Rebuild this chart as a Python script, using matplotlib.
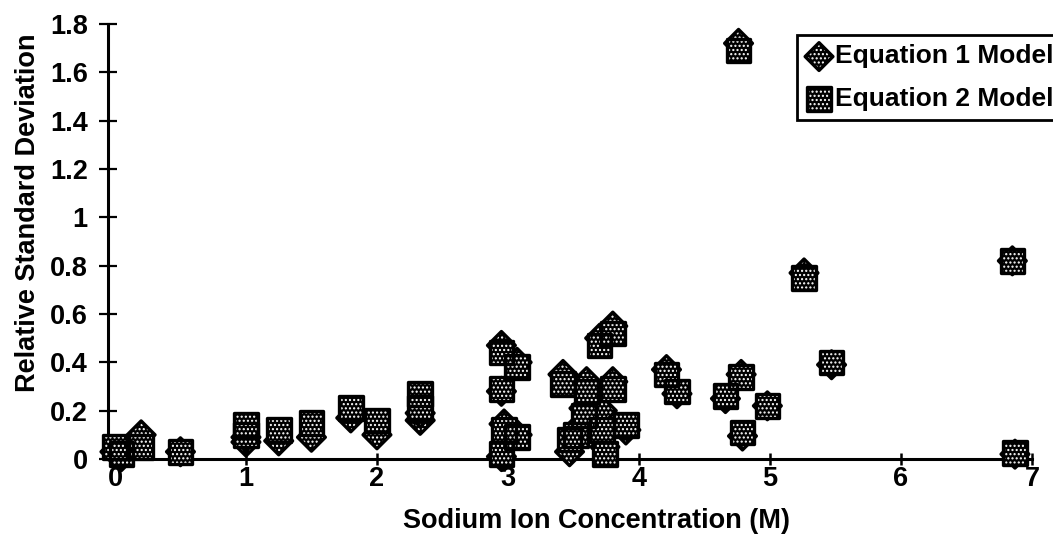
import matplotlib
matplotlib.use("Agg")
import matplotlib.pyplot as plt
from matplotlib.legend_handler import HandlerTuple

plt.rcParams['font.family'] = ['Liberation Sans', 'DejaVu Sans']
plt.rcParams['font.weight'] = 'bold'
plt.rcParams['hatch.color'] = 'white'
plt.rcParams['hatch.linewidth'] = 1.0

# Sodium ion concentration (M)
sodium = [0.00, 0.05, 0.20, 0.50, 1.00, 1.00, 1.25, 1.50, 1.80, 2.00,
          2.33, 2.33, 2.95, 3.07, 2.95, 2.97, 3.07, 2.95, 3.42, 3.47,
          3.52, 3.60, 3.58, 3.70, 3.72, 3.74, 3.80, 3.80, 3.90, 4.21,
          4.29, 4.66, 4.78, 4.98, 4.79, 4.76, 5.26, 5.47, 6.85, 6.87]
# Relative standard deviation, Equation 1 model
eq1_rsd = [0.03, 0.01, 0.10, 0.03, 0.07, 0.09, 0.075, 0.09, 0.17, 0.10,
           0.16, 0.19, 0.47, 0.40, 0.28, 0.145, 0.10, 0.01, 0.35, 0.03,
           0.12, 0.32, 0.21, 0.50, 0.20, 0.05, 0.55, 0.32, 0.12, 0.37,
           0.27, 0.25, 0.35, 0.22, 0.095, 1.72, 0.77, 0.39, 0.82, 0.02]
# Relative standard deviation, Equation 2 model
eq2_rsd = [0.05, 0.02, 0.05, 0.03, 0.14, 0.10, 0.12, 0.15, 0.21, 0.16,
           0.27, 0.21, 0.44, 0.38, 0.29, 0.12, 0.09, 0.02, 0.31, 0.08,
           0.10, 0.28, 0.18, 0.47, 0.12, 0.02, 0.52, 0.29, 0.14, 0.35,
           0.28, 0.26, 0.34, 0.22, 0.11, 1.69, 0.75, 0.40, 0.82, 0.025]

series_labels = ['Equation 1 Model', 'Equation 2 Model']
x_ticks = [0, 1, 2, 3, 4, 5, 6, 7]
y_ticks = [0, 0.2, 0.4, 0.6, 0.8, 1, 1.2, 1.4, 1.6, 1.8]
y_tick_labels = ['0', '0.2', '0.4', '0.6', '0.8', '1', '1.2', '1.4', '1.6', '1.8']

fig = plt.figure(figsize=(10.53, 5.55), dpi=100)
ax = fig.add_axes([108/1053, 1-459/555, (1032-108)/1053, (459-24)/555])

D_SIZE = 200
S_SIZE = 290

def layered(x, y, marker, size, z):
    f = ax.scatter(x, y, s=size, marker=marker, facecolor='black', edgecolor='white',
                   linewidths=0, hatch='....', zorder=z, clip_on=False)
    o = ax.scatter(x, y, s=size, marker=marker, facecolor='none', edgecolor='black',
                   linewidths=2.4, zorder=z + 0.1, clip_on=False)
    return f, o

h1 = layered(sodium, eq1_rsd, 'D', D_SIZE, 3)
h2 = layered(sodium, eq2_rsd, 's', S_SIZE, 4)

ax.set_xlim(-0.053, 7.0)
ax.set_ylim(0, 1.8)
ax.set_xticks(x_ticks)
ax.set_xticklabels([str(t) for t in x_ticks])
ax.set_yticks(y_ticks)
ax.set_yticklabels(y_tick_labels)

for s in ['top', 'right']:
    ax.spines[s].set_visible(False)
for s in ['left', 'bottom']:
    ax.spines[s].set_linewidth(2.2)
    ax.spines[s].set_zorder(2)

ax.tick_params(axis='y', direction='inout', length=13, width=1.6, pad=8, labelsize=19.5)
ax.tick_params(axis='x', direction='inout', length=9, width=1.8, pad=0.5, labelsize=19.5)
for lab in ax.get_xticklabels() + ax.get_yticklabels():
    lab.set_fontweight('bold')

ax.set_xlabel('Sodium Ion Concentration (M)', fontsize=19.5, fontweight='bold')
ax.set_ylabel('Relative Standard Deviation', fontsize=19.5, fontweight='bold')
ax.xaxis.set_label_coords(0.529, -0.112)
ax.yaxis.set_label_coords(-0.072, 0.566)

leg = fig.legend([h1, h2], series_labels, handler_map={tuple: HandlerTuple(ndivide=1)},
                 loc='upper left', bbox_to_anchor=(797/1053, 1-35/555),
                 frameon=True, fancybox=False, edgecolor='black', framealpha=1,
                 prop={'weight': 'bold', 'size': 19},
                 handlelength=0.95, handletextpad=0.12, borderpad=0.36,
                 labelspacing=0.7, borderaxespad=0, scatterpoints=1)
leg.get_frame().set_linewidth(2.0)

fig.savefig('out.png', dpi=100)
